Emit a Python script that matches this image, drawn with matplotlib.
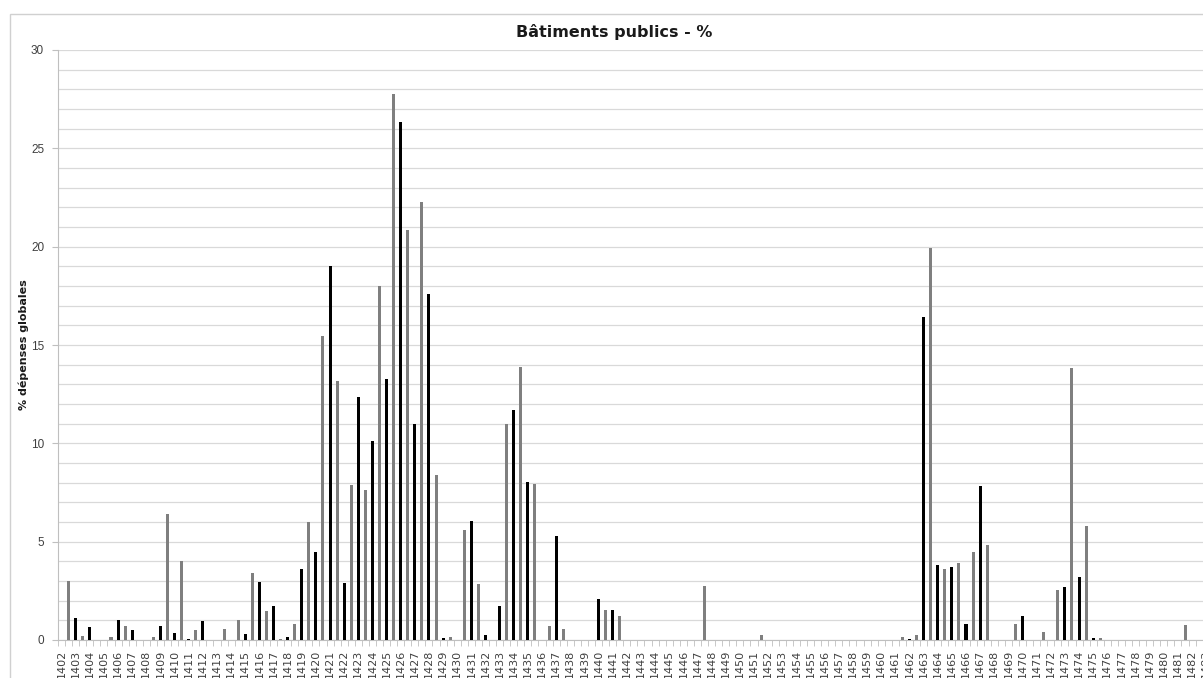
import matplotlib
matplotlib.use("Agg")
import matplotlib.pyplot as plt
from matplotlib.patches import Rectangle
import numpy as np

# Years (each year has two periods: black bar at the labelled category, grey bar after it)
annees = list(range(1402, 1484))

valeurs_noires = [
    0, 1.13, 0.65, 0, 1.02, 0.49, 0, 0.73, 0.34, 0.03,            # 1402-1411
    0.98, 0, 0, 0.32, 2.93, 1.71, 0.17, 3.61, 4.49, 19.0,         # 1412-1421
    2.91, 12.37, 10.13, 13.27, 26.35, 10.98, 17.6, 0.1, 0, 6.05,  # 1422-1431
    0.25, 1.73, 11.7, 8.03, 0, 5.29, 0, 0, 2.1, 1.52,             # 1432-1441
    0, 0, 0, 0, 0, 0, 0, 0, 0, 0,                                 # 1442-1451
    0, 0, 0, 0, 0, 0, 0, 0, 0, 0,                                 # 1452-1461
    0.03, 16.42, 3.83, 3.73, 0.8, 7.84, 0, 0, 1.2, 0,             # 1462-1471
    0, 2.68, 3.19, 0.1, 0, 0, 0, 0, 0, 0,                         # 1472-1481
    0, 0,                                                         # 1482-1483
]
valeurs_grises = [
    3.0, 0.22, 0, 0.15, 0.71, 0, 0.17, 6.4, 4.03, 0.51,              # 1402-1411
    0, 0.54, 1.0, 3.4, 1.5, 0.05, 0.81, 5.98, 15.45, 13.15,          # 1412-1421
    7.88, 7.63, 18.02, 27.78, 20.85, 22.27, 8.39, 0.17, 5.59, 2.85,  # 1422-1431
    0, 11.0, 13.88, 7.93, 0.7, 0.58, 0, 0, 1.52, 1.24,               # 1432-1441
    0, 0, 0, 0, 0, 2.73, 0, 0, 0, 0.25,                              # 1442-1451
    0, 0, 0, 0, 0, 0, 0, 0, 0, 0.17,                                 # 1452-1461
    0.24, 19.93, 3.59, 3.93, 4.47, 4.81, 0, 0.81, 0, 0.42,           # 1462-1471
    2.54, 13.84, 5.8, 0.08, 0, 0, 0, 0, 0, 0.76,                     # 1472-1481
    0, 0,                                                            # 1482-1483
]

titre = "Bâtiments publics - %"
label_y = "% dépenses globales"

n = len(annees)

W, H = 1203, 678
fig = plt.figure(figsize=(W / 100, H / 100), dpi=100)

# chart border (the chart is cropped on the right and bottom)
fig.patches.append(Rectangle((10 / W, -0.1), 1.2, 1 - 14 / H + 0.1,
                             transform=fig.transFigure, fill=False,
                             edgecolor="#d0d0d0", linewidth=1.0))

step = 7.066
ncat = 2 * n
left_px = 58
axw = ncat * step
ax = fig.add_axes([left_px / W, 38 / H, axw / W, 590 / H])

x = np.arange(n)
pos_noir = 2 * x
pos_gris = 2 * x + 1
bw = 0.43
ax.bar(pos_noir, valeurs_noires, width=bw, color="#000000", zorder=3)
ax.bar(pos_gris, valeurs_grises, width=bw, color="#7f7f7f", zorder=3)

ax.set_xlim(-0.5, ncat - 0.5)
ax.set_ylim(0, 30)

ax.set_yticks(np.arange(0, 31, 5))
ax.set_yticks(np.arange(0, 31, 1), minor=True)
ax.yaxis.grid(True, which="both", color="#d9d9d9", linewidth=0.9, zorder=0)
ax.set_axisbelow(True)
ax.tick_params(axis="y", which="major", length=4, color="#bfbfbf",
               labelsize=8.5, labelcolor="#404040", pad=6)
ax.tick_params(axis="y", which="minor", length=0)
for lab in ax.get_yticklabels():
    lab.set_fontfamily("Liberation Sans")

ax.set_xticks(pos_noir)
ax.set_xticklabels([str(a) for a in annees], rotation=90,
                   fontsize=8, color="#404040", fontfamily="DejaVu Sans")
ax.set_xticks(np.arange(-0.5, ncat, 1), minor=True)
ax.tick_params(axis="x", which="major", length=0, pad=7)
ax.tick_params(axis="x", which="minor", length=4, color="#bfbfbf")

for s in ["top", "right"]:
    ax.spines[s].set_visible(False)
ax.spines["left"].set_color("#bfbfbf")
ax.spines["bottom"].set_color("#bfbfbf")

fig.text(614 / W, 1 - 32 / H, titre, ha="center", va="center",
         fontsize=11.5, fontweight="bold", color="#1a1a1a")
fig.text(24 / W, 1 - 345 / H, label_y, ha="center", va="center",
         rotation=90, fontsize=8, fontweight="bold", color="#1a1a1a")

fig.savefig("out.png", dpi=100)
